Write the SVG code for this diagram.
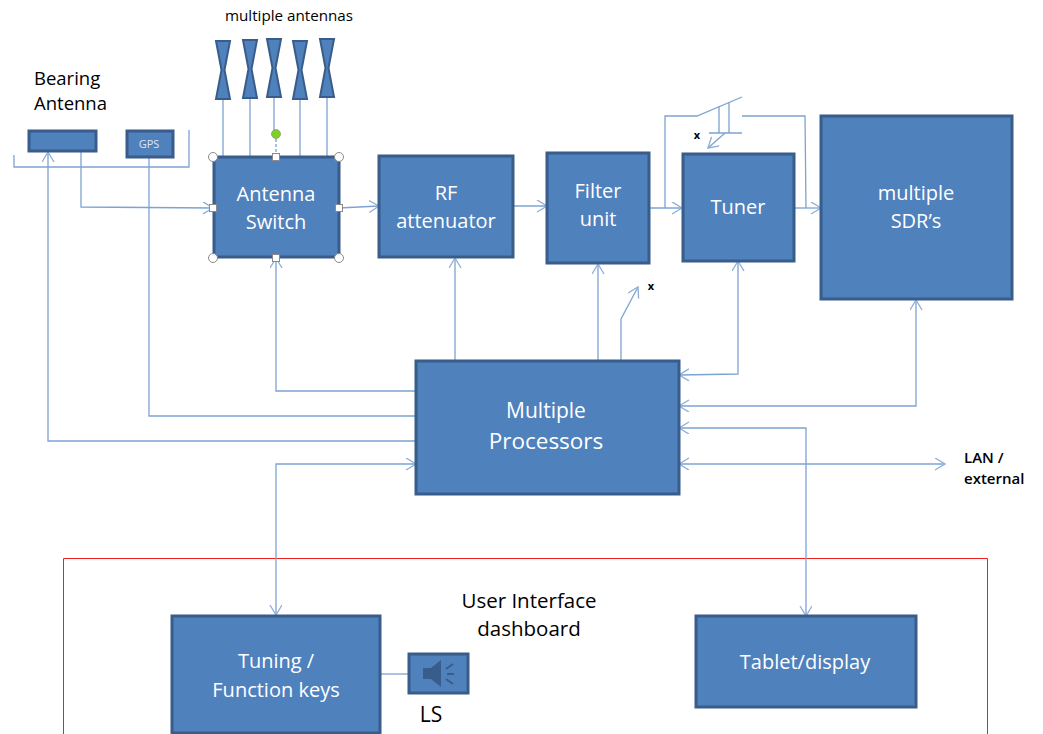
<svg xmlns="http://www.w3.org/2000/svg" width="1043" height="734" viewBox="0 0 1043 734">
<defs>
<marker id="a" markerUnits="userSpaceOnUse" markerWidth="14" markerHeight="14" refX="11" refY="6" orient="auto-start-reverse"><path d="M1 0L11 6L1 12" fill="none" stroke="#8fb0d8" stroke-width="1.4"/></marker>
<polygon id="ant" points="-7,-29 7,-29 1.5,0 7,29 -7,29 -1.5,0" fill="#4f81bd" stroke="#385d8a" stroke-width="2"/>
</defs>
<style>
text{font-family:"Open Sans","Noto Sans","DejaVu Sans",sans-serif}
.b{fill:#4f81bd;stroke:#385d8a;stroke-width:3}
.w{fill:#fff;font-size:20px;text-anchor:middle}
.k{fill:#000;text-anchor:middle}
.l{fill:none;stroke:#7ea3d1;stroke-width:1.3}
.ar{marker-end:url(#a)}
.both{marker-start:url(#a);marker-end:url(#a)}
.h{fill:#fff;stroke:#8a8a8a;stroke-width:1}
</style>
<path d="M63.500 734V558.500H987.500V734" fill="none" stroke="#f02020" stroke-width="1"/>
<g id="connectors">
<path class="l" d="M14 155V167H189V130"/>
<path class="l ar" d="M81 151V207L213 208"/>
<path class="l" d="M223 98V157M250 98V157M274 98V134M300 98V157M327 98V157"/>
<path class="l" d="M149 157V416H416"/>
<path class="l ar" d="M416 441H48V152"/>
<path class="l ar" d="M416 391H276V258"/>
<path class="l ar" d="M339 208L379 206"/>
<path class="l ar" d="M513 206H547"/>
<path class="l ar" d="M649 208H682"/>
<path class="l ar" d="M794 208H821"/>
<path class="l" d="M665 208V116H697L742 97M742 116H805L806 208"/>
<path class="l" d="M719 106V133M729 102V133M709 133H742"/>
<path class="l ar" d="M725 133L708 148"/>
<path class="l ar" d="M455 361V258"/>
<path class="l ar" d="M598 361V264"/>
<path class="l ar" d="M621 361V319L638 287"/>
<path class="l both" d="M679 375L738 374V261"/>
<path class="l both" d="M679 406H916V300"/>
<path class="l both" d="M679 428H806V616"/>
<path class="l both" d="M679 464H945"/>
<path class="l both" d="M416 464H276V615"/>
<path class="l" d="M381 674H408"/>
</g>
<g id="antennas"><use href="#ant" x="223" y="70"/><use href="#ant" x="250" y="69"/><use href="#ant" x="274" y="68"/><use href="#ant" x="300" y="70"/><use href="#ant" x="327" y="68"/></g>
<g id="bearing"><rect class="b" x="29" y="131" width="67" height="20"/></g>
<g id="gps"><rect class="b" x="127" y="131" width="46" height="26"/><text x="149" y="148" fill="#dce6f2" font-size="11" text-anchor="middle">GPS</text></g>
<g id="switch"><rect class="b" x="214" y="157" width="125" height="100"/>
<text class="w" x="276" y="201">Antenna</text><text class="w" x="276" y="229">Switch</text>
<path d="M276 134V157" stroke="#4f81bd" stroke-dasharray="3 2" fill="none"/>
<circle cx="276" cy="134" r="4.5" fill="#7ed321" stroke="#8a8a8a" stroke-width=".7"/>
<circle class="h" cx="213" cy="157" r="4.5"/><circle class="h" cx="339" cy="157" r="4.5"/><circle class="h" cx="213" cy="258" r="4.5"/><circle class="h" cx="339" cy="258" r="4.5"/>
<rect class="h" x="272.500" y="153.500" width="7" height="7"/><rect class="h" x="209.500" y="204.500" width="7" height="7"/><rect class="h" x="335.500" y="204.500" width="7" height="7"/><rect class="h" x="272.500" y="254.500" width="7" height="7"/></g>
<g id="rf"><rect class="b" x="379" y="156" width="134" height="101"/><text class="w" x="446" y="200">RF</text><text class="w" x="446" y="228">attenuator</text></g>
<g id="filter"><rect class="b" x="547" y="153" width="102" height="110"/><text class="w" x="598" y="198">Filter</text><text class="w" x="598" y="226">unit</text></g>
<g id="tuner"><rect class="b" x="683" y="154" width="111" height="107"/><text class="w" x="738" y="214">Tuner</text></g>
<g id="sdr"><rect class="b" x="821" y="116" width="191" height="183"/><text class="w" x="916" y="200">multiple</text><text class="w" x="916" y="228">SDR’s</text></g>
<g id="proc"><rect class="b" x="416" y="361" width="263" height="133"/><text class="w" x="546" y="418" style="font-size:21px">Multiple</text><text class="w" x="546" y="449" style="font-size:22.500px">Processors</text></g>
<g id="keys"><rect class="b" x="172" y="616" width="208" height="117"/><text class="w" x="276" y="668">Tuning /</text><text class="w" x="276" y="697">Function keys</text></g>
<g id="ls"><rect class="b" x="409" y="654" width="59" height="39"/>
<path d="M423 668H431L441 660V687L431 679H423Z" fill="#385d8a"/>
<path d="M446 669L453 664M447 674H454M446 679L453 684" stroke="#385d8a" stroke-width="2" fill="none"/>
<text class="k" x="431" y="722" font-size="21">LS</text></g>
<g id="tablet"><rect class="b" x="696" y="616" width="220" height="91"/><text class="w" x="805" y="669">Tablet/display</text></g>
<g id="labels">
<text x="289" y="21" class="k" font-size="15.200">multiple antennas</text>
<text x="34" y="85" font-size="18.500" fill="#000">Bearing</text>
<text x="34" y="110" font-size="18.500" fill="#000">Antenna</text>
<text x="697" y="139" class="k" font-size="11" font-weight="700">x</text>
<text x="651" y="290" class="k" font-size="11" font-weight="700">x</text>
<text x="964" y="463" font-size="15" font-weight="600" fill="#000">LAN /</text>
<text x="964" y="484" font-size="15" font-weight="600" fill="#000">external</text>
<text x="529" y="608" class="k" font-size="20.500">User Interface</text>
<text x="529" y="636" class="k" font-size="20.500">dashboard</text>
</g>
</svg>
